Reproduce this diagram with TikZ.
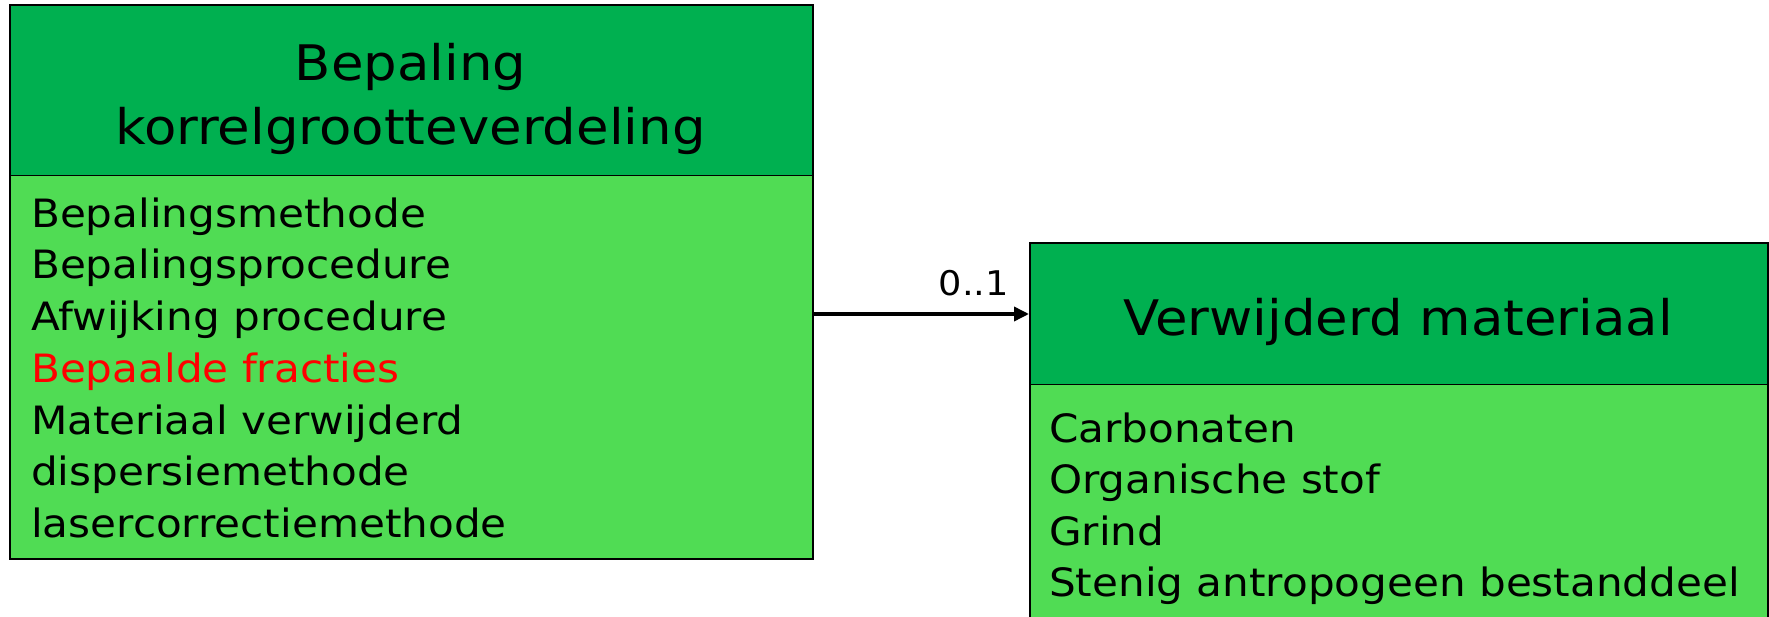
\documentclass[tikz,border=0pt]{standalone}
\usepackage{fontspec}
\setmainfont{DejaVu Sans}[FakeStretch=1.08]
\usetikzlibrary{arrows.meta}
\definecolor{hdr}{RGB}{0,176,80}
\definecolor{bdy}{RGB}{80,220,84}
\tikzset{
  hdrbox/.style={draw=black, line width=1.5pt, fill=hdr, anchor=north west, inner sep=0pt},
  bdybox/.style={draw=black, line width=1.5pt, fill=bdy, anchor=north west, inner sep=0pt},
  hdrtext/.style={anchor=base, inner sep=0pt, font=\fontsize{49}{60}\selectfont},
  attr/.style={anchor=base west, inner sep=0pt, font=\fontsize{39}{46}\selectfont},
  mult/.style={anchor=base east, inner sep=0pt, font=\fontsize{34}{40}\selectfont},
  assoc/.style={line width=3.5pt, -{Triangle[length=15pt,width=14pt]}}
}
\begin{document}
\begin{tikzpicture}[x=1pt,y=-1pt]
\useasboundingbox (0,0) rectangle (1769,617);
% left class
\node[hdrbox, minimum width=803pt, minimum height=170.5pt] (lh) at (9,4.5) {};
\node[bdybox, minimum width=803pt, minimum height=383pt] (lb) at (9,175) {};
\node[hdrtext] (lt1) at (410.5,81) {Bepaling};
\node[hdrtext] (lt2) at (410.5,144.5) {korrelgrootteverdeling};
\node[attr] (a1) at (31,227.3) {Bepalingsmethode};
\node[attr] (a2) at (31,279) {Bepalingsprocedure};
\node[attr] (a3) at (31,330.7) {Afwijking procedure};
\node[attr, text=red] (a4) at (31,382.4) {Bepaalde fracties};
\node[attr] (a5) at (31,434.1) {Materiaal verwijderd};
\node[attr] (a6) at (31,485.8) {dispersiemethode};
\node[attr] (a7) at (31,537.5) {lasercorrectiemethode};
% right class
\node[hdrbox, minimum width=738pt, minimum height=141pt] (rh) at (1029,242.5) {};
\node[bdybox, minimum width=738pt, minimum height=260pt] (rb) at (1029,383.5) {};
\node[hdrtext] (rt) at (1398,336) {Verwijderd materiaal};
\node[attr] (b1) at (1049,442.3) {Carbonaten};
\node[attr] (b2) at (1049,493.8) {Organische stof};
\node[attr] (b3) at (1049,545) {Grind};
\node[attr] (b4) at (1049,596.5) {Stenig antropogeen bestanddeel};
% association
\coordinate (s) at (812,314);
\coordinate (e) at (1029,314);
\draw[assoc] (s) -- (e);
\node[mult] (m) at (1009,295.5) {0..1};
\end{tikzpicture}
\end{document}
